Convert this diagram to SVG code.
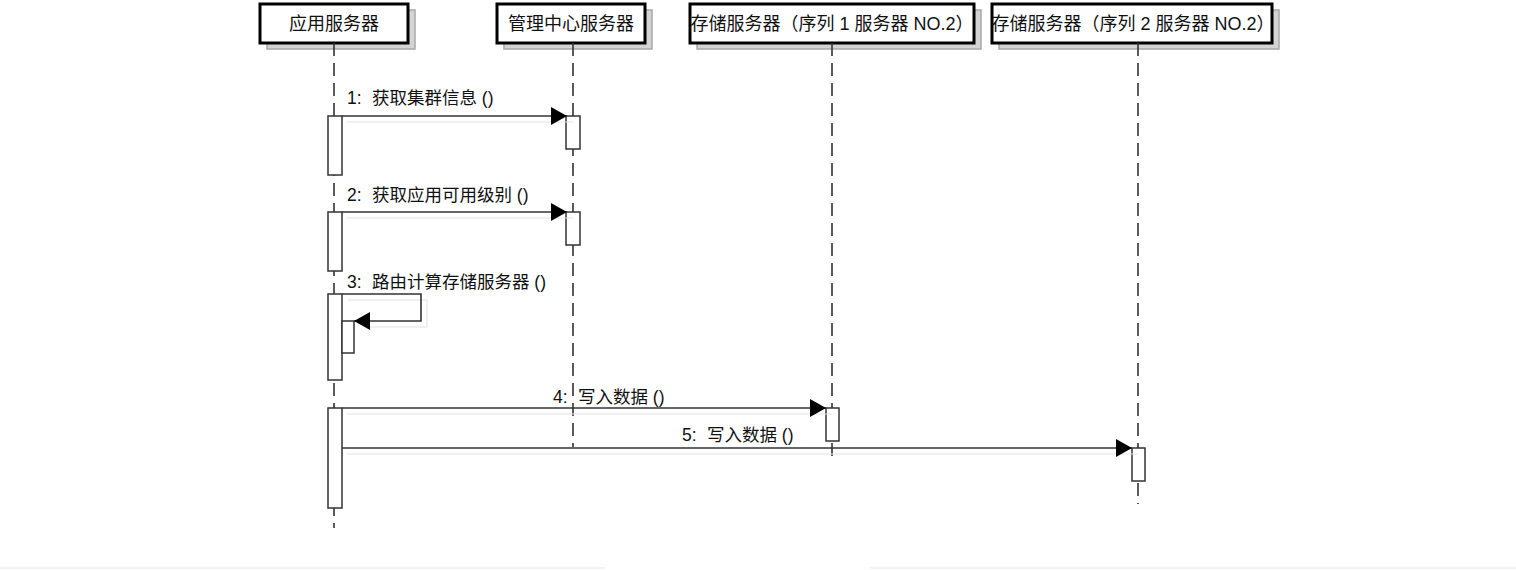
<svg xmlns="http://www.w3.org/2000/svg" width="1516" height="570" viewBox="0 0 1516 570">
<defs>
<marker id="arr" markerUnits="userSpaceOnUse" markerWidth="18" markerHeight="20" refX="16" refY="9" orient="auto">
<path d="M0,0 L16,9 L0,18 Z" fill="#000"/>
</marker>
<style>
.hdr{fill:#fff;stroke:#000;stroke-width:3}
.shd{fill:#d4d4d4;stroke:#a8a8a8;stroke-width:1.5}
.ht{font-family:"Liberation Sans","Noto Sans CJK SC",sans-serif;font-size:18px;fill:#111;text-anchor:middle}
.mt{font-family:"Liberation Sans","Noto Sans CJK SC",sans-serif;font-size:17.5px;fill:#111}
.life{stroke:#333;stroke-width:1.6;stroke-dasharray:13,7;fill:none}
.act{fill:#fff;stroke:#333;stroke-width:1.5}
.msg{stroke:#333;stroke-width:1.6;fill:none}
.ghost{stroke:#e2e2e2;stroke-width:1;fill:none}
</style>
</defs>
<rect width="1516" height="570" fill="#fff"/>
<line x1="0" y1="568" x2="605" y2="568" stroke="#f2f2f2" stroke-width="2"/>
<line x1="870" y1="568" x2="1516" y2="568" stroke="#f2f2f2" stroke-width="2"/>

<g id="node-app">
<rect class="shd" x="267" y="10" width="148" height="39"/>
<rect class="hdr" x="260" y="4" width="148" height="39"/>
<text class="ht" x="334" y="30">应用服务器</text>
<line class="life" x1="334" y1="43" x2="334" y2="528"/>
<rect class="act" x="328" y="116" width="14" height="59"/>
<rect class="act" x="328" y="212" width="14" height="59"/>
<rect class="act" x="328" y="294" width="14" height="86"/>
<rect class="act" x="342" y="321" width="12" height="32"/>
<rect class="act" x="328" y="408" width="14" height="100"/>
</g>

<g id="node-mgmt">
<rect class="shd" x="504" y="10" width="148" height="39"/>
<rect class="hdr" x="497" y="4" width="148" height="39"/>
<text class="ht" x="571" y="30">管理中心服务器</text>
<line class="life" x1="573" y1="43" x2="573" y2="447"/>
<rect class="act" x="566" y="116" width="14" height="33"/>
<rect class="act" x="566" y="212" width="14" height="33"/>
</g>

<g id="node-store1">
<rect class="shd" x="697" y="10" width="284" height="39"/>
<rect class="hdr" x="690" y="4" width="284" height="39"/>
<text class="ht" x="832" y="30">存储服务器（序列 1 服务器 NO.2）</text>
<line class="life" x1="832" y1="43" x2="832" y2="461"/>
<rect class="act" x="826" y="408" width="13" height="33"/>
</g>

<g id="node-store2">
<rect class="shd" x="999" y="10" width="280" height="39"/>
<rect class="hdr" x="992" y="4" width="280" height="39"/>
<text class="ht" x="1133" y="30">存储服务器（序列 2 服务器 NO.2）</text>
<line class="life" x1="1138" y1="43" x2="1138" y2="504"/>
<rect class="act" x="1132" y="448" width="13" height="33"/>
</g>

<g id="connectors">
<line class="ghost" x1="347" y1="122" x2="573" y2="122"/>
<line class="ghost" x1="347" y1="218" x2="573" y2="218"/>
<polyline class="ghost" points="348,300 427,300 427,327 370,327"/>
<line class="ghost" x1="347" y1="414" x2="832" y2="414"/>
<line class="ghost" x1="347" y1="454" x2="1138" y2="454"/>

<line class="msg" x1="342" y1="116" x2="567" y2="116" marker-end="url(#arr)"/>
<text class="mt" x="347" y="104">1:<tspan x="372">获取集群信息 ()</tspan></text>

<line class="msg" x1="342" y1="212" x2="567" y2="212" marker-end="url(#arr)"/>
<text class="mt" x="347" y="201">2:<tspan x="372">获取应用可用级别 ()</tspan></text>

<polyline class="msg" points="342,294 421,294 421,321 354,321" marker-end="url(#arr)"/>
<text class="mt" x="347" y="288">3:<tspan x="372">路由计算存储服务器 ()</tspan></text>

<line class="msg" x1="342" y1="408" x2="826" y2="408" marker-end="url(#arr)"/>
<text class="mt" x="553" y="403">4:<tspan x="578">写入数据 ()</tspan></text>

<line class="msg" x1="342" y1="448" x2="1132" y2="448" marker-end="url(#arr)"/>
<text class="mt" x="682" y="441">5:<tspan x="707">写入数据 ()</tspan></text>
</g>
</svg>
